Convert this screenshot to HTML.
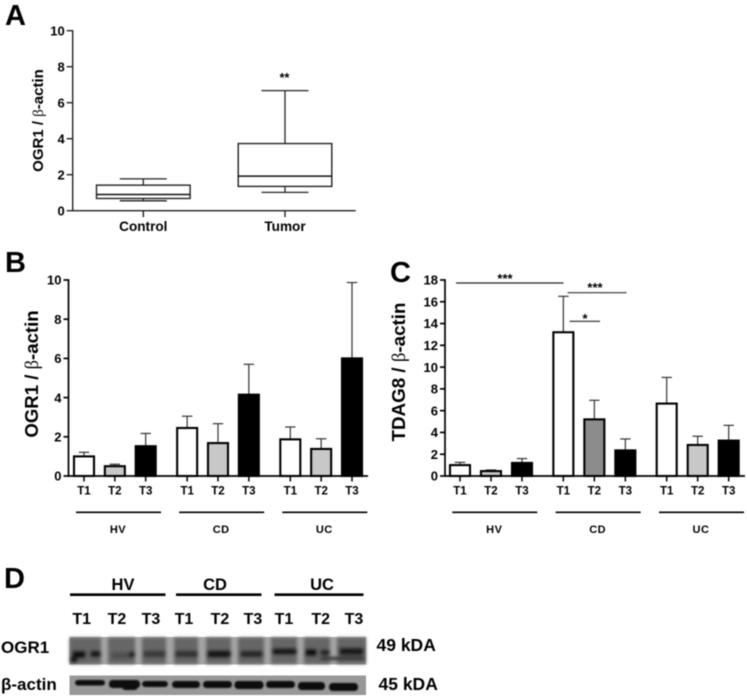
<!DOCTYPE html>
<html>
<head>
<meta charset="utf-8">
<style>
html,body{margin:0;padding:0;background:#fff;width:747px;height:697px;overflow:hidden}
svg{display:block;filter:blur(0.5px)}
text{font-family:"Liberation Sans",sans-serif;font-weight:bold;fill:#000}
.greek{font-family:"Liberation Serif",serif;font-weight:normal}
</style>
</head>
<body>
<svg id="fig" xmlns="http://www.w3.org/2000/svg" width="747" height="697" viewBox="0 0 747 697">
  <defs>
    <filter id="blot-blur" x="-10%" y="-30%" width="120%" height="160%"><feGaussianBlur stdDeviation="1.5"/></filter>
    <filter id="blot-soft" x="-10%" y="-30%" width="120%" height="160%"><feGaussianBlur stdDeviation="0.8"/></filter>
  </defs>

  <text x="5" y="25" font-size="29">A</text>
  <text x="5" y="272" font-size="29">B</text>
  <text x="390" y="282" font-size="29">C</text>
  <text x="4" y="588" font-size="29">D</text>

  <g id="panelA"></g>
  <text transform="translate(43 120.5) rotate(-90)" text-anchor="middle" font-size="15">OGR1 / <tspan class="greek">β</tspan>-actin</text>
  <text x="284.5" y="82" text-anchor="middle" font-size="12.5">**</text>

  <g id="panelB"></g>
  <text transform="translate(38 374) rotate(-90)" text-anchor="middle" font-size="18.6">OGR1 / <tspan class="greek">β</tspan>-actin</text>

  <g id="panelC"></g>
  <text transform="translate(405 372) rotate(-90)" text-anchor="middle" font-size="18.8">TDAG8 / <tspan class="greek">β</tspan>-actin</text>

  <g stroke="#222" stroke-width="1.2">
    <line x1="456" x2="563.5" y1="283" y2="283"/>
    <line x1="567.5" x2="626.5" y1="292.7" y2="292.7" stroke="#555" stroke-width="1.4"/>
    <line x1="569.5" x2="600" y1="321.3" y2="321.3"/>
  </g>
  <text x="505" y="283" text-anchor="middle" font-size="13">***</text>
  <text x="595" y="292" text-anchor="middle" font-size="13">***</text>
  <text x="585" y="323" text-anchor="middle" font-size="13">*</text>

  <g id="panelD">
    <text x="123" y="590" text-anchor="middle" font-size="16.5">HV</text>
    <text x="215" y="590" text-anchor="middle" font-size="16.5">CD</text>
    <text x="322" y="590" text-anchor="middle" font-size="16.5">UC</text>
    <line x1="70" x2="165.5" y1="594.7" y2="594.7" stroke="#000" stroke-width="2.6"/>
    <line x1="176" x2="261.5" y1="594.7" y2="594.7" stroke="#000" stroke-width="2.6"/>
    <line x1="274.5" x2="363.5" y1="594.7" y2="594.7" stroke="#000" stroke-width="2.6"/>
    <text x="1" y="653" font-size="17">OGR1</text>
    <text x="1" y="690" font-size="17">β-actin</text>
    <text x="376.5" y="651" font-size="17.5">49 kDA</text>
    <text x="378.5" y="690" font-size="17.5">45 kDA</text>
  </g>
</svg>
<script>
// Panel A: box plot values
const boxCategories = ['Control', 'Tumor'];
const boxMin = [0.55, 1.02];
const boxQ1 = [0.68, 1.35];
const boxMedian = [0.9, 1.92];
const boxQ3 = [1.42, 3.73];
const boxMax = [1.77, 6.67];
const boxTicks = [0, 2, 4, 6, 8, 10];

// Panel B: bar values
const groups = ['HV', 'CD', 'UC'];
const times = ['T1', 'T2', 'T3'];
const ogr1Means = [1.0, 0.5, 1.52, 2.45, 1.68, 4.15, 1.87, 1.38, 6.0];
const ogr1Tops = [1.21, 0.6, 2.17, 3.05, 2.67, 5.7, 2.5, 1.9, 9.87];
const ogr1Ticks = [0, 2, 4, 6, 8, 10];

// Panel C: bar values
const tdag8Means = [1.0, 0.45, 1.2, 13.2, 5.2, 2.35, 6.65, 2.85, 3.25];
const tdag8Tops = [1.25, 0.55, 1.6, 16.5, 6.95, 3.4, 9.05, 3.65, 4.65];
const tdag8Ticks = [0, 2, 4, 6, 8, 10, 12, 14, 16, 18];

// Panel D: lane titles
const laneTitles = ['T1', 'T2', 'T3', 'T1', 'T2', 'T3', 'T1', 'T2', 'T3'];

const NS = 'http://www.w3.org/2000/svg';
function mk(parent, tag, attrs, txt) {
  const e = document.createElementNS(NS, tag);
  for (const k in attrs) e.setAttribute(k, attrs[k]);
  if (txt !== undefined) e.textContent = txt;
  parent.appendChild(e);
  return e;
}
function mkLine(parent, x1, y1, x2, y2, stroke, width) {
  return mk(parent, 'line', {x1: x1, y1: y1, x2: x2, y2: y2, stroke: stroke, 'stroke-width': width});
}

function drawYAxis(parent, x, yScale, ticks, tickLen, stroke, width, fontSize, prefix) {
  const top = yScale(ticks[ticks.length - 1]);
  const bottom = yScale(ticks[0]);
  const axis = mkLine(parent, x, top - width / 2, x, bottom + width / 2, stroke, width);
  
  
  ticks.forEach(function (t) {
    const tick = mkLine(parent, x - tickLen, yScale(t), x, yScale(t), stroke, width);
    
    
    const label = mk(parent, 'text', {x: x - tickLen - 2, y: yScale(t) + fontSize * 0.36, 'text-anchor': 'end', 'font-size': fontSize}, t);
    
    
  });
}

// ---- Panel A ----
(function () {
  const g = document.getElementById('panelA');
  const y = function (v) { return 210.7 - v * 18; };
  const x = function (i) { return 143.3 + i * 141.7; };
  const halfBox = 46.8, halfCap = 23.5;
  boxCategories.forEach(function (name, i) {
    const cx = x(i);
    const stem = mkLine(g, cx, y(boxMax[i]), cx, y(boxMin[i]), '#222', 1.3);
    
    
    const capHi = mkLine(g, cx - halfCap, y(boxMax[i]), cx + halfCap, y(boxMax[i]), '#222', 1.3);
    
    
    const capLo = mkLine(g, cx - halfCap, y(boxMin[i]), cx + halfCap, y(boxMin[i]), '#222', 1.3);
    
    
    const box = mk(g, 'rect', {x: cx - halfBox, y: y(boxQ3[i]), width: halfBox * 2, height: y(boxQ1[i]) - y(boxQ3[i]), fill: '#fff', stroke: '#222', 'stroke-width': 1.4});
    
    
    const med = mkLine(g, cx - halfBox, y(boxMedian[i]), cx + halfBox, y(boxMedian[i]), '#111', 1.5);
    
    
    const tick = mkLine(g, cx, y(0), cx, y(0) + 6.5, '#222', 1.4);
    
    
    const label = mk(g, 'text', {x: cx, y: 231, 'text-anchor': 'middle', 'font-size': 13.6}, name);
    
    
  });
  drawYAxis(g, 72.7, y, boxTicks, 6, '#222', 1.4, 13, 'panel-a');
  const xAxis = mkLine(g, 72.7, y(0), 355.7, y(0), '#222', 1.4);
  
  
})();

// ---- Bar panels ----
function drawBars(id, prefix, means, tops, ticks, yScale, xOrigin, groupStep, barStep, axisX, axisEnd, lineStart, t2Fills) {
  const g = document.getElementById(id);
  const xPos = function (gi, i) { return xOrigin + gi * groupStep + i * barStep; };
  groups.forEach(function (grp, gi) {
    times.forEach(function (t, i) {
      const idx = gi * 3 + i;
      const cx = xPos(gi, i);
      const fill = i === 0 ? '#fff' : (i === 1 ? t2Fills[gi] : '#000');
      const err = mkLine(g, cx, yScale(tops[idx]), cx, yScale(means[idx]), '#333', 1.2);
      
      
      const cap = mkLine(g, cx - 5.2, yScale(tops[idx]), cx + 5.2, yScale(tops[idx]), '#333', 1.2);
      
      
      const bar = mk(g, 'rect', {x: cx - 10, y: yScale(means[idx]), width: 20, height: yScale(0) - yScale(means[idx]), fill: fill, stroke: '#000', 'stroke-width': 2.1});
      
      
      const tick = mkLine(g, cx, yScale(0), cx, yScale(0) + 5.5, '#000', 1.5);
      
      
      const label = mk(g, 'text', {x: cx, y: 494.5, 'text-anchor': 'middle', 'font-size': 11.5}, t);
      
      
    });
    const lx = lineStart + gi * groupStep;
    const groupLine = mkLine(g, lx, 512.3, lx + 85, 512.3, '#000', 1.7);
    
    
    const groupLabel = mk(g, 'text', {x: lx + 42, y: 533, 'text-anchor': 'middle', 'font-size': 11, 'letter-spacing': '0.5'}, grp);
    
    
  });
  drawYAxis(g, axisX, yScale, ticks, 5, '#000', 1.7, 13, prefix);
  const xAxis = mkLine(g, axisX, yScale(0), axisEnd, yScale(0), '#000', 1.7);
  
  
}
drawBars('panelB', 'panel-b', ogr1Means, ogr1Tops, ogr1Ticks, function (v) { return 476 - v * 19.6; }, 84, 103.15, 30.85, 68.5, 368, 76, ['#c8c8c8', '#c8c8c8', '#c8c8c8']);
drawBars('panelC', 'panel-c', tdag8Means, tdag8Tops, tdag8Ticks, function (v) { return 476 - v * 10.89; }, 460, 103.35, 31, 445, 745, 452.3, ['#c8c8c8', '#8c8c8c', '#c8c8c8']);

// ---- Panel D: western blot imitation ----
(function () {
  const g = document.getElementById('panelD');
  laneTitles.forEach(function (t, i) {
    const lx = [81.7, 117, 151, 184, 220, 253, 284, 320.7, 354][i];
    const title = mk(g, 'text', {x: lx, y: 624, 'text-anchor': 'middle', 'font-size': 16}, t);
    
    
  });
  const upperBg = mk(g, 'rect', {x: 69.5, y: 637, width: 296.5, height: 27.5, fill: '#a4a4a4'});
  
  
  const upper = mk(g, 'g', {filter: 'url(#blot-blur)'});
  
  
  [[69.5,101],[108,135],[142,166],[174,198],[206,231],[238,264],[271,297],[304,330],[337,366]].forEach(function (l) {
    const lane = mk(upper, 'rect', {x: l[0], y: 637.5, width: l[1] - l[0], height: 26.5, fill: '#666'});
    
    
  });
  [[72,650.5,14,8,'#0c0c0c'],[70,656,8,7,'#1a1a1a'],[90,650.5,11,7,'#141414'],[111,652,20,7,'#505050'],[129,651,6,7,'#222'],
   [143,650.5,23,7,'#3a3a3a'],[175,650.5,23,7,'#303030'],[207,650,24,8,'#141414'],[240,650.5,23,7,'#262626'],
   [272,648,25,7,'#141414'],[305,648.5,12,8,'#111'],[320,649.5,10,6,'#222'],[320,657,28,3,'#222'],
   [339,647.5,25,8,'#1f1f1f'],[345,657,20,3,'#222']].forEach(function (b) {
    const band = mk(upper, 'rect', {x: b[0], y: b[1], width: b[2], height: b[3], rx: 2.5, fill: b[4]});
    
    
  });
  const lowerBg = mk(g, 'rect', {x: 69.5, y: 675.5, width: 296.5, height: 19.5, fill: '#989898'});
  
  
  const lower = mk(g, 'g', {filter: 'url(#blot-soft)'});
  
  
  [[75,680,30,5.5],[109,680,31,8],[122,684,16,6],[142,681,26,6],[172,681,28,7],[203,681,29,7],[234.5,681,29,8],[266,681,29,7],[298,682,27,8],[329,683,29,8]].forEach(function (b) {
    const band = mk(lower, 'rect', {x: b[0], y: b[1], width: b[2], height: b[3], rx: 3.5, fill: '#111'});
    
    
  });
})();
</script>
</body>
</html>
